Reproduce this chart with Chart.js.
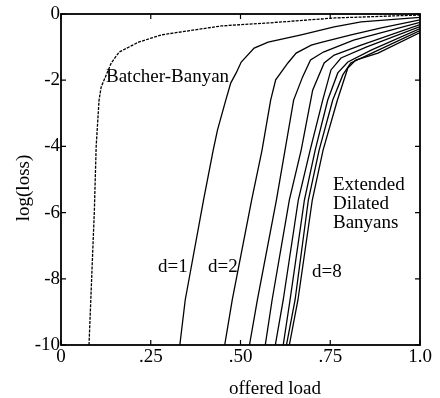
<!DOCTYPE html>
<html><head><meta charset="utf-8">
<script src="https://cdn.jsdelivr.net/npm/chart.js@4/dist/chart.umd.min.js"></script>
<style>html,body{margin:0;padding:0;background:#fff}canvas{display:block}</style>
</head><body>
<canvas id="c" width="440" height="398"></canvas>
<script>
const xTickValues = [0, 0.25, 0.5, 0.75, 1.0];
const xTickLabels = ['0', '.25', '.50', '.75', '1.0'];
const yTickValues = [0, -2, -4, -6, -8, -10];
const yTickLabels = ['0', '-2', '-4', '-6', '-8', '-10'];

const batcherLoad = [0.078, 0.093, 0.098, 0.106, 0.112, 0.140, 0.162, 0.216, 0.280, 0.372, 0.447, 0.578, 0.762, 1.0];
const batcherLog  = [-10, -5.92, -3.99, -2.6, -2.2, -1.48, -1.15, -0.85, -0.63, -0.48, -0.36, -0.27, -0.12, -0.03];

const d1Load = [0.331, 0.346, 0.397, 0.424, 0.436, 0.459, 0.473, 0.488, 0.502, 0.538, 0.577, 0.669, 0.761, 0.836, 1.0];
const d1Log  = [-10, -8.64, -5.62, -4.11, -3.5, -2.6, -2.08, -1.78, -1.45, -1.03, -0.85, -0.63, -0.39, -0.24, -0.1];
const d2Load = [0.456, 0.477, 0.531, 0.560, 0.584, 0.598, 0.632, 0.655, 0.697, 0.725, 0.808, 0.892, 1.0];
const d2Log  = [-10, -8.64, -5.62, -4.11, -2.6, -1.99, -1.48, -1.18, -0.94, -0.86, -0.63, -0.42, -0.18];
const d3Load = [0.525, 0.547, 0.600, 0.624, 0.648, 0.673, 0.695, 0.731, 0.815, 1.0];
const d3Log  = [-10, -8.64, -5.62, -4.11, -2.6, -1.9, -1.39, -1.15, -0.79, -0.25];
const d4Load = [0.569, 0.588, 0.636, 0.669, 0.701, 0.733, 0.761, 0.836, 1.0];
const d4Log  = [-10, -8.64, -5.62, -4.11, -2.3, -1.48, -1.24, -0.94, -0.32];
const d5Load = [0.597, 0.619, 0.661, 0.694, 0.729, 0.752, 0.780, 0.850, 1.0];
const d5Log  = [-10, -8.64, -5.62, -4.11, -2.6, -1.69, -1.33, -1.0, -0.38];
const d6Load = [0.619, 0.638, 0.678, 0.708, 0.743, 0.771, 0.799, 0.864, 1.0];
const d6Log  = [-10, -8.64, -5.62, -4.11, -2.6, -1.78, -1.45, -1.09, -0.44];
const d7Load = [0.628, 0.652, 0.689, 0.719, 0.757, 0.785, 0.807, 0.872, 1.0];
const d7Log  = [-10, -8.64, -5.62, -4.11, -2.6, -1.84, -1.48, -1.15, -0.5];
const d8Load = [0.636, 0.660, 0.700, 0.730, 0.770, 0.799, 0.821, 0.883, 1.0];
const d8Log  = [-10, -8.64, -5.62, -4.11, -2.6, -1.63, -1.39, -1.18, -0.56];

const FONT = '"Liberation Serif", "Times New Roman", serif';

function pts(xs, ys) { return xs.map((x, i) => ({x: x, y: ys[i]})); }

const dSeries = [
  ['d=1', d1Load, d1Log], ['d=2', d2Load, d2Log], ['d=3', d3Load, d3Log], ['d=4', d4Load, d4Log],
  ['d=5', d5Load, d5Log], ['d=6', d6Load, d6Log], ['d=7', d7Load, d7Log], ['d=8', d8Load, d8Log]
];

const datasets = [{
  label: 'Batcher-Banyan',
  data: pts(batcherLoad, batcherLog),
  borderColor: '#000', borderWidth: 1.3, borderDash: [3, 1.2],
  showLine: true, pointRadius: 0, tension: 0, fill: false
}].concat(dSeries.map(s => ({
  label: s[0], data: pts(s[1], s[2]),
  borderColor: '#000', borderWidth: 1.3,
  showLine: true, pointRadius: 0, tension: 0, fill: false
})));

const framePlugin = {
  id: 'frame',
  afterDraw(chart) {
    const ctx = chart.ctx, a = chart.chartArea;
    const xs = chart.scales.x, ys = chart.scales.y;
    ctx.save();
    ctx.strokeStyle = '#000';
    ctx.lineWidth = 1.8;
    ctx.strokeRect(a.left, a.top, a.right - a.left, a.bottom - a.top);
    ctx.lineWidth = 1.2;
    const tl = 5;
    ctx.beginPath();
    xTickValues.forEach(v => {
      const px = xs.getPixelForValue(v);
      ctx.moveTo(px, a.top); ctx.lineTo(px, a.top + tl);
      ctx.moveTo(px, a.bottom); ctx.lineTo(px, a.bottom - tl);
    });
    yTickValues.forEach(v => {
      const py = ys.getPixelForValue(v);
      ctx.moveTo(a.left, py); ctx.lineTo(a.left + tl, py);
      ctx.moveTo(a.right, py); ctx.lineTo(a.right - tl, py);
    });
    ctx.stroke();

    ctx.fillStyle = '#000';
    ctx.font = '19px ' + FONT;
    ctx.textAlign = 'left';
    ctx.textBaseline = 'alphabetic';
    ctx.fillText('Batcher-Banyan', 106, 82);
    ctx.fillText('Extended', 333, 190);
    ctx.fillText('Dilated', 333, 209);
    ctx.fillText('Banyans', 333, 228);
    ctx.fillText('d=1', 158, 272);
    ctx.fillText('d=2', 208, 272);
    ctx.fillText('d=8', 312, 277);

    ctx.textAlign = 'center';
    ctx.fillText('offered load', 275, 394);
    ctx.save();
    ctx.translate(29, 188);
    ctx.rotate(-Math.PI / 2);
    ctx.fillText('log(loss)', 0, 0);
    ctx.restore();
    ctx.restore();
  }
};

new Chart(document.getElementById('c'), {
  type: 'scatter',
  data: { datasets: datasets },
  options: {
    responsive: false,
    animation: false,
    events: [],
    layout: { padding: { left: 0, right: 20, top: 14, bottom: 0 } },
    plugins: { legend: { display: false }, tooltip: { enabled: false } },
    scales: {
      x: {
        type: 'linear', min: 0, max: 1,
        afterBuildTicks: s => { s.ticks = xTickValues.map(v => ({value: v})); },
        afterFit: s => { s.height = 53; },
        grid: { display: false, drawTicks: false },
        border: { display: false },
        ticks: {
          padding: 1, color: '#000', font: { family: FONT, size: 19 },
          maxRotation: 0, autoSkip: false,
          callback: (v) => { const i = xTickValues.indexOf(v); return i >= 0 ? xTickLabels[i] : ''; }
        }
      },
      y: {
        type: 'linear', min: -10, max: 0,
        afterBuildTicks: s => { s.ticks = yTickValues.map(v => ({value: v})); },
        afterFit: s => { s.width = 61; },
        grid: { display: false, drawTicks: false },
        border: { display: false },
        ticks: {
          padding: 1, color: '#000', font: { family: FONT, size: 19 },
          autoSkip: false,
          callback: (v) => { const i = yTickValues.indexOf(v); return i >= 0 ? yTickLabels[i] : ''; }
        }
      }
    }
  },
  plugins: [framePlugin]
});
</script>
</body></html>
